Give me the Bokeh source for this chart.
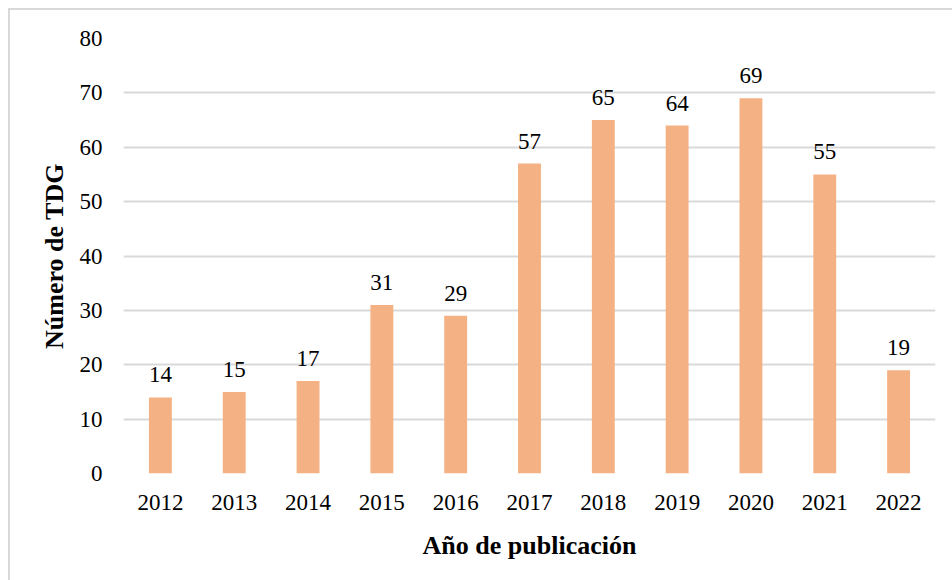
from bokeh.plotting import figure
from bokeh.models import ColumnDataSource, FactorRange, Range1d, LabelSet, FixedTicker
from bokeh.embed import file_html
from bokeh.resources import INLINE

years = ["2012", "2013", "2014", "2015", "2016", "2017", "2018", "2019", "2020", "2021", "2022"]
counts = [14, 15, 17, 31, 29, 57, 65, 64, 69, 55, 19]
y_ticks = [0, 10, 20, 30, 40, 50, 60, 70, 80]

FONT = "Liberation Serif"

src = ColumnDataSource(data=dict(year=years, count=counts, label=[str(c) for c in counts]))

p = figure(
    x_range=FactorRange(factors=years, range_padding=0),
    y_range=Range1d(0, 80),
    width=944, height=572,
    output_backend="svg", toolbar_location=None,
    min_border_left=113, min_border_right=19, min_border_top=28, min_border_bottom=109,
)
p.styles = {"border-left": "2px solid #d9d9d9", "border-top": "2px solid #d9d9d9",
            "box-sizing": "border-box", "margin-left": "8px", "margin-top": "8px"}

p.vbar(x="year", top="count", width=0.31, source=src, fill_color="#F4B183", line_color=None)

labels = LabelSet(x="year", y="count", text="label", source=src, text_align="center",
                  text_baseline="bottom", y_offset=15, text_font=FONT, text_font_size="23px",
                  text_color="#000000")
p.add_layout(labels)

p.outline_line_color = None
p.xgrid.grid_line_color = None
p.ygrid.grid_line_color = "#d9d9d9"
p.ygrid.grid_line_width = 2
p.yaxis.ticker = FixedTicker(ticks=y_ticks)

for ax in (p.xaxis, p.yaxis):
    ax.axis_line_color = None
    ax.major_tick_line_color = None
    ax.minor_tick_line_color = None
    ax.major_label_text_font = FONT
    ax.major_label_text_font_size = "23px"
    ax.major_label_text_color = "#000000"
    ax.axis_label_text_font = FONT
    ax.axis_label_text_font_size = "26px"
    ax.axis_label_text_font_style = "bold"
    ax.axis_label_text_color = "#000000"

p.xaxis.axis_label = "Año de publicación"
p.yaxis.axis_label = "Número de TDG"
p.xaxis.major_label_standoff = 15
p.yaxis.major_label_standoff = 15
p.xaxis.axis_label_standoff = 18
p.yaxis.axis_label_standoff = 8

open("out.html", "w").write(file_html(p, INLINE))
